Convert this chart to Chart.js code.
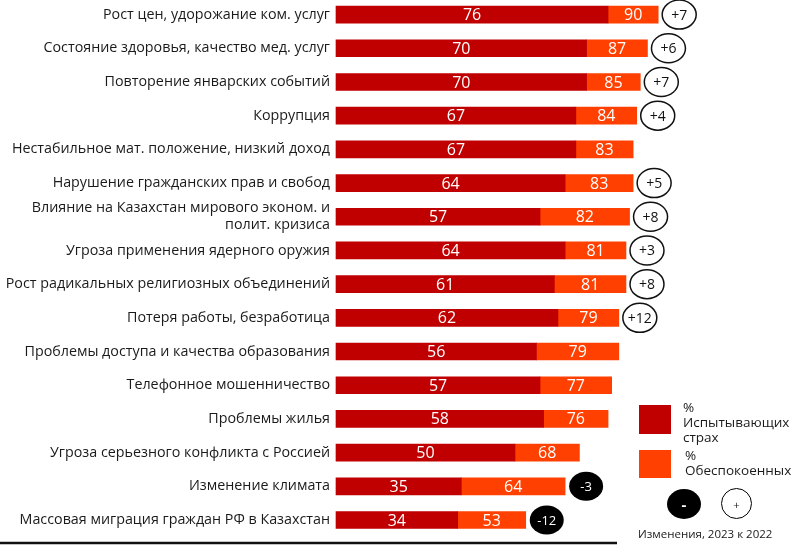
<!DOCTYPE html>
<html>
<head>
<meta charset="utf-8">
<script src="https://cdn.jsdelivr.net/npm/chart.js@4.4.1/dist/chart.umd.min.js"></script>
<style>
  html, body { margin: 0; padding: 0; background: #fff; }
  #wrap { position: relative; width: 800px; height: 548px; overflow: hidden; font-family: "Open Sans", sans-serif; color: #1a1a1a; }
  #chart { position: absolute; left: 0; top: 0; }
  .sq { position: absolute; width: 32px; height: 29px; }
  .lg { position: absolute; font-size: 13.5px; line-height: 15px; }
  .dot { position: absolute; border-radius: 50%; text-align: center; font-size: 13px; }
</style>
</head>
<body>
<div id="wrap">
  <canvas id="chart" width="800" height="548"></canvas>
  <div class="sq" style="left:639px;top:405px;background:#C00000"></div>
  <div class="lg" style="left:683px;top:400px">%<br>Испытывающих<br>страх</div>
  <div class="sq" style="left:639px;top:450px;height:28px;background:#FF4000"></div>
  <div class="lg" style="left:685px;top:448px">%<br>Обеспокоенных</div>
  <div class="dot" style="left:667px;top:489px;width:34px;height:30px;line-height:30px;background:#000;color:#fff;font-size:15px;font-weight:bold">-</div>
  <div class="dot" style="left:721px;top:488px;width:31px;height:31px;line-height:31px;border:1px solid #000;font-size:11px;box-sizing:border-box">+</div>
  <div class="lg" style="left:638px;top:526px;font-size:11.5px">Изменения, 2023 к 2022</div>
</div>
<script>
const categories = [
  'Рост цен, удорожание ком. услуг',
  'Состояние здоровья, качество мед. услуг',
  'Повторение январских событий',
  'Коррупция',
  'Нестабильное мат. положение, низкий доход',
  'Нарушение гражданских прав и свобод',
  ['Влияние на Казахстан мирового эконом. и', 'полит. кризиса'],
  'Угроза применения ядерного оружия',
  'Рост радикальных религиозных объединений',
  'Потеря работы, безработица',
  'Проблемы доступа и качества образования',
  'Телефонное мошенничество',
  'Проблемы жилья',
  'Угроза серьезного конфликта с Россией',
  'Изменение климата',
  'Массовая миграция граждан РФ в Казахстан'
];
const fearValues    = [76, 70, 70, 67, 67, 64, 57, 64, 61, 62, 56, 57, 58, 50, 35, 34];
const concernValues = [90, 87, 85, 84, 83, 83, 82, 81, 81, 79, 79, 77, 76, 68, 64, 53];
const changeValues  = [7, 6, 7, 4, null, 5, 8, 3, 8, 12, null, null, null, null, -3, -12];

// orange part of each bar is the gap between the two shares
const extraValues = concernValues.map((v, i) => v - fearValues[i]);

const labelsPlugin = {
  id: 'barLabels',
  afterDatasetsDraw(chart) {
    const ctx = chart.ctx;
    const fear = chart.getDatasetMeta(0).data;
    const extra = chart.getDatasetMeta(1).data;
    ctx.save();
    ctx.textAlign = 'center';
    ctx.textBaseline = 'middle';
    ctx.font = '16px "Open Sans", sans-serif';
    ctx.fillStyle = '#fff';
    fear.forEach((bar, i) => {
      ctx.fillText(fearValues[i], (bar.x + bar.base) / 2, bar.y + 1);
      const o = extra[i];
      ctx.fillText(concernValues[i], (o.x + o.base) / 2, o.y + 1);
    });

    // change bubbles
    extra.forEach((bar, i) => {
      const c = changeValues[i];
      if (c === null) return;
      const cx = bar.x + 21, cy = bar.y;
      ctx.beginPath();
      ctx.ellipse(cx, cy, 17, 14.5, 0, 0, Math.PI * 2);
      if (c < 0) {
        ctx.fillStyle = '#000';
        ctx.fill();
        ctx.fillStyle = '#fff';
        ctx.font = '13px "Open Sans", sans-serif';
        ctx.fillText(String(c), cx, cy + 1);
      } else {
        ctx.fillStyle = '#fff';
        ctx.fill();
        ctx.lineWidth = 1.5;
        ctx.strokeStyle = '#111';
        ctx.stroke();
        ctx.fillStyle = '#111';
        ctx.font = '14px "Open Sans", sans-serif';
        ctx.fillText('+' + c, cx, cy + 1);
      }
    });

    // bottom rule
    ctx.beginPath();
    ctx.moveTo(0, 543);
    ctx.lineTo(617, 543);
    ctx.lineWidth = 2.5;
    ctx.strokeStyle = '#111';
    ctx.stroke();
    ctx.restore();
  }
};

new Chart(document.getElementById('chart'), {
  type: 'bar',
  data: {
    labels: categories,
    datasets: [
      { label: '% Испытывающих страх', data: fearValues, backgroundColor: '#C00000', barThickness: 17, clip: false },
      { label: '% Обеспокоенных', data: extraValues, backgroundColor: '#FF4000', barThickness: 17, clip: false }
    ]
  },
  options: {
    indexAxis: 'y',
    responsive: false,
    animation: false,
    layout: { padding: { top: 12, bottom: 28, right: 106, left: 0 } },
    plugins: { legend: { display: false }, tooltip: { enabled: false } },
    scales: {
      x: { stacked: true, min: 0, max: 100, display: false },
      y: {
        stacked: true,
        offset: false,
        grid: { display: false, drawTicks: false },
        border: { display: false },
        ticks: {
          color: '#1a1a1a',
          padding: 6,
          font: { family: '"Open Sans", sans-serif', size: 14.3 },
          autoSkip: false
        },
        afterFit(scale) { scale.width = 336; }
      }
    }
  },
  plugins: [labelsPlugin]
});
</script>
</body>
</html>
